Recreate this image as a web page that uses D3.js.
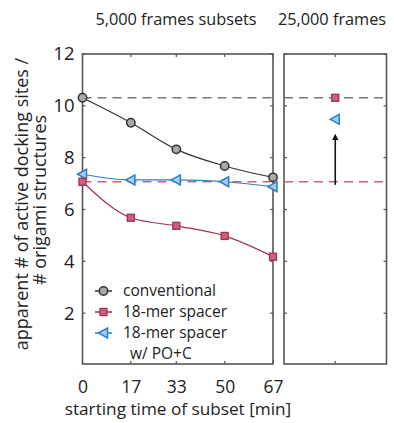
<!DOCTYPE html>
<html><head><meta charset="utf-8">
<script src="https://cdn.jsdelivr.net/npm/d3@7"></script>
<style>body{margin:0;background:#fff}svg{display:block}text{font-family:"Open Sans",sans-serif;fill:#222}</style>
</head><body>
<svg id="c" width="394" height="423"></svg>
<script>
const times = [0, 17, 33, 50, 67];
const xTickLabels = ["0", "17", "33", "50", "67"];
const yTicks = [2, 4, 6, 8, 10, 12];
const conventional = [10.31, 9.35, 8.32, 7.68, 7.24];
const spacer18 = [7.07, 5.68, 5.37, 4.98, 4.18];
const spacer18PO = [7.36, 7.14, 7.14, 7.07, 6.88];
const full18 = 10.31;
const full18PO = 9.48;
const refConventional = 10.31;
const refSpacer = 7.07;
const seriesNames = [["conventional"], ["18-mer spacer"], ["18-mer spacer", "w/ PO+C"]];

const svg = d3.select("#c");
const L = {x0: 82.5, x1: 273, y0: 54, y1: 364};
const R = {x0: 284, x1: 386.5};
const x = d3.scaleLinear().domain([0, 67]).range([L.x0, L.x1]);
const y = d3.scaleLinear().domain([0, 12]).range([365, 54]);
const xr = d3.scaleLinear().domain([0, 1]).range([R.x0, R.x1]);

const frameC = "#555", cGray = "#333", cRed = "#a5304f", cBlue = "#2b7fc4";

function frame(a, b) {
  svg.append("rect").attr("x", a).attr("y", L.y0).attr("width", b - a).attr("height", L.y1 - L.y0)
    .attr("fill", "none").attr("stroke", frameC).attr("stroke-width", 1.6);
}
frame(L.x0, L.x1); frame(R.x0, R.x1);

yTicks.forEach(v => {
  [[L.x0, 1], [L.x1, -1], [R.x0, 1], [R.x1, -1]].forEach(([px, d]) => {
    svg.append("line").attr("x1", px).attr("x2", px + 3 * d).attr("y1", y(v)).attr("y2", y(v))
      .attr("stroke", frameC).attr("stroke-width", 1.2);
  });
});
const yAxis = d3.axisLeft(y).tickValues(yTicks).tickSize(0).tickPadding(8);
const gy = svg.append("g").attr("transform", `translate(${L.x0},0)`).call(yAxis);
gy.select(".domain").remove();
gy.selectAll("text").attr("font-size", 18.5).attr("fill", "#222").style("font-family", "Open Sans");

times.forEach(t => {
  [[L.y0, 1], [L.y1, -1]].forEach(([py, d]) => {
    svg.append("line").attr("x1", x(t)).attr("x2", x(t)).attr("y1", py).attr("y2", py + 3 * d)
      .attr("stroke", frameC).attr("stroke-width", 1.2);
  });
});
[[L.y0, 1], [L.y1, -1]].forEach(([py, d]) => {
  svg.append("line").attr("x1", xr(0.5)).attr("x2", xr(0.5)).attr("y1", py).attr("y2", py + 3 * d)
    .attr("stroke", frameC).attr("stroke-width", 1.2);
});
const xAxis = d3.axisBottom(x).tickValues(times).tickFormat((d, i) => xTickLabels[i]).tickSize(0).tickPadding(17);
const gx = svg.append("g").attr("transform", `translate(0,${L.y1})`).call(xAxis);
gx.select(".domain").remove();
gx.selectAll("text").attr("font-size", 17.5).attr("fill", "#222").style("font-family", "Open Sans");

[[L.x0, L.x1], [R.x0, R.x1]].forEach(([a, b]) => {
  svg.append("line").attr("x1", a).attr("x2", b).attr("y1", y(refConventional)).attr("y2", y(refConventional))
    .attr("stroke", "#777").attr("stroke-width", 1.5).attr("stroke-dasharray", "9,6");
  svg.append("line").attr("x1", a).attr("x2", b).attr("y1", y(refSpacer)).attr("y2", y(refSpacer))
    .attr("stroke", "#c9627e").attr("stroke-width", 1.5).attr("stroke-dasharray", "9,6");
});

const line = d3.line().x((d, i) => x(times[i])).y(d => y(d)).curve(d3.curveMonotoneX);
svg.append("path").attr("d", line(conventional)).attr("fill", "none").attr("stroke", cGray).attr("stroke-width", 1.2);
svg.append("path").attr("d", line(spacer18)).attr("fill", "none").attr("stroke", cRed).attr("stroke-width", 1.2);
svg.append("path").attr("d", line(spacer18PO)).attr("fill", "none").attr("stroke", cBlue).attr("stroke-width", 1.2);

function circle(cx, cy) {
  svg.append("circle").attr("cx", cx).attr("cy", cy).attr("r", 4.2).attr("fill", "#a8a8a8").attr("stroke", "#333").attr("stroke-width", 1.5);
}
function square(cx, cy) {
  svg.append("rect").attr("x", cx - 3.5).attr("y", cy - 3.5).attr("width", 7).attr("height", 7)
    .attr("fill", "#c9627e").attr("stroke", cRed).attr("stroke-width", 1.3);
}
function tri(cx, cy) {
  svg.append("path").attr("d", `M${cx - 5},${cy} L${cx + 4},${cy - 5} L${cx + 4},${cy + 5} Z`)
    .attr("fill", "#a9cdee").attr("stroke", cBlue).attr("stroke-width", 1.5);
}
spacer18PO.forEach((v, i) => tri(x(times[i]), y(v)));
spacer18.forEach((v, i) => square(x(times[i]), y(v)));
conventional.forEach((v, i) => circle(x(times[i]), y(v)));

square(xr(0.5), y(full18));
tri(xr(0.5), y(full18PO));
svg.append("defs").append("marker").attr("id", "ah").attr("viewBox", "0 0 10 10").attr("refX", 5).attr("refY", 5)
  .attr("markerWidth", 4).attr("markerHeight", 5.5).attr("orient", "auto")
  .append("path").attr("d", "M0,0 L10,5 L0,10 Z").attr("fill", "#111");
svg.append("line").attr("x1", xr(0.5)).attr("x2", xr(0.5)).attr("y1", y(6.95)).attr("y2", y(8.8))
  .attr("stroke", "#111").attr("stroke-width", 1.6).attr("marker-end", "url(#ah)");

const lg = [[291, "circle", cGray], [312, "square", cRed], [333, "tri", cBlue]];
lg.forEach(([ly, m, c], i) => {
  svg.append("line").attr("x1", 95).attr("x2", 112).attr("y1", ly).attr("y2", ly).attr("stroke", c).attr("stroke-width", 1.5);
  if (m === "circle") circle(103.5, ly); else if (m === "square") square(103.5, ly); else tri(103.5, ly);
  const t = svg.append("text").attr("x", 123).attr("y", ly + 5).attr("font-size", 15.5);
  seriesNames[i].forEach((s, j) => {
    t.append("tspan").attr("x", j === 0 ? 123 : 130).attr("dy", j === 0 ? 0 : 21).text(s);
  });
});

svg.append("text").attr("x", 176).attr("y", 25).attr("text-anchor", "middle").attr("font-size", 16.3).text("5,000 frames subsets");
svg.append("text").attr("x", 332).attr("y", 25).attr("text-anchor", "middle").attr("font-size", 16.3).text("25,000 frames");

svg.append("text").attr("x", 178).attr("y", 415).attr("text-anchor", "middle").attr("font-size", 17.2).text("starting time of subset [min]");
svg.append("text").attr("transform", "translate(28,204) rotate(-90)").attr("text-anchor", "middle").attr("font-size", 18).text("apparent # of active docking sites /");
svg.append("text").attr("transform", "translate(46,200) rotate(-90)").attr("text-anchor", "middle").attr("font-size", 18).text("# origami structures");
</script>
</body></html>
